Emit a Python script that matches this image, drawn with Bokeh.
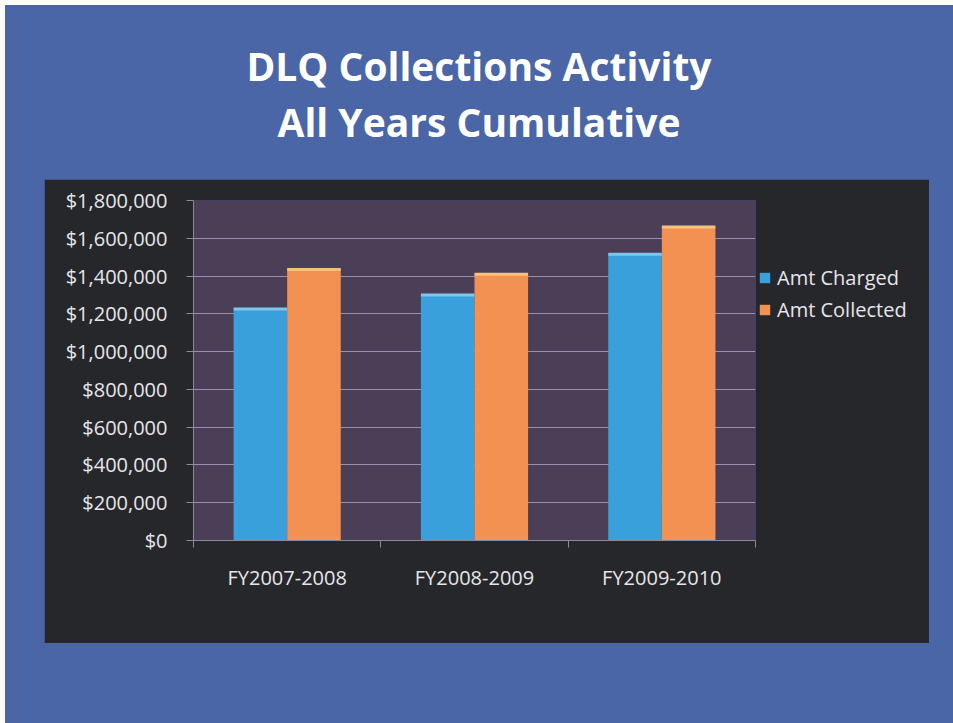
from bokeh.plotting import figure
from bokeh.models import (ColumnDataSource, FactorRange, Range1d, FixedTicker, LinearAxis, Column, Div,
                          CategoricalAxis, NumeralTickFormatter, Legend, LegendItem)
from bokeh.transform import dodge
from bokeh.embed import file_html
from bokeh.resources import INLINE

# ---- data ----
categories = ["FY2007-2008", "FY2008-2009", "FY2009-2010"]
amt_charged = [1225000, 1300000, 1515000]
amt_collected = [1435000, 1410000, 1660000]
y_ticks = [0, 200000, 400000, 600000, 800000, 1000000, 1200000, 1400000, 1600000, 1800000]
series_names = ["Amt Charged", "Amt Collected"]
title_lines = ["DLQ Collections Activity", "All Years Cumulative"]

source = ColumnDataSource(dict(cat=categories, charged=amt_charged, collected=amt_collected))

BLUE_BG = "#4a66a6"
DARK = "#26272b"
PLOT_BG = "#4a3f57"
C_BLUE = "#3aa0dc"
C_ORANGE = "#f29152"
TXT = "#e6e6ea"
AX = "#8c8a98"
FONT = "Open Sans"

# ---- title strip ----
title = Div(text="<br>".join(title_lines), width=948, height=174, margin=0,
            styles={"background-color": BLUE_BG, "color": "white", "text-align": "center",
                    "font-family": FONT, "font-weight": "bold", "font-size": "39px",
                    "line-height": "56px", "padding-top": "33px", "box-sizing": "border-box",
                    "width": "948px", "height": "174px"})

# ---- chart box (885 x 464 on the slide) ----
BOX_W, BOX_H = 885, 464
FL, FT, FW, FH = 149, 21, 562, 340
p = figure(frame_width=FW, frame_height=FH, x_range=FactorRange(*categories), y_range=Range1d(0, 1800000),
           output_backend="svg", toolbar_location=None, x_axis_location=None, y_axis_location="left",
           min_border_left=FL, min_border_top=FT, min_border_right=BOX_W - FL - FW,
           min_border_bottom=BOX_H - FT - FH, margin=(0, 24, 80, 39),
           styles={"clip-path": f"polygon(0px 0px, {BOX_W}px 0px, {BOX_W}px {BOX_H}px, 0px {BOX_H}px)"})
p.border_fill_color = DARK
p.background_fill_color = PLOT_BG
p.outline_line_color = None
p.xgrid.grid_line_color = None

ya = p.yaxis[0]
ya.ticker = FixedTicker(ticks=y_ticks)
ya.formatter = NumeralTickFormatter(format="$0,0")
ya.axis_line_color = AX
ya.major_tick_line_color = AX
ya.major_tick_out = 7
ya.major_tick_in = 0
ya.minor_tick_line_color = None
ya.major_label_text_color = TXT
ya.major_label_text_font = FONT
ya.major_label_text_font_size = "20px"
ya.major_label_standoff = 19

p.ygrid.grid_line_color = "#9a8fae"
p.ygrid.grid_line_width = 1
p.ygrid.ticker = FixedTicker(ticks=y_ticks)

# boundary tick axis (between categories, synthetic coordinates 0..n)
ba = LinearAxis(ticker=FixedTicker(ticks=list(range(len(categories) + 1))))
ba.axis_line_color = AX
ba.major_tick_line_color = AX
ba.major_tick_out = 7
ba.major_tick_in = 0
ba.minor_tick_line_color = None
ba.major_label_text_color = None
ba.major_label_text_font_size = "1px"
ba.major_label_standoff = 0
p.add_layout(ba, "below")

ca = CategoricalAxis()
ca.axis_line_color = None
ca.major_tick_line_color = None
ca.major_label_text_color = TXT
ca.major_label_text_font = FONT
ca.major_label_text_font_size = "20px"
ca.major_label_standoff = 10
p.add_layout(ca, "below")

bw = 0.286
r1 = p.vbar(x=dodge("cat", -bw / 2, range=p.x_range), top="charged", width=bw, source=source,
            fill_color=C_BLUE, line_color=None)
r2 = p.vbar(x=dodge("cat", bw / 2, range=p.x_range), top="collected", width=bw, source=source,
            fill_color=C_ORANGE, line_color=None)
p.rect(x=dodge("cat", -bw / 2, range=p.x_range), y="charged", width=bw, height=3, height_units="screen",
       source=source, fill_color="#7fc6ee", line_color=None)
p.rect(x=dodge("cat", bw / 2, range=p.x_range), y="collected", width=bw, height=3, height_units="screen",
       source=source, fill_color="#f8c27a", line_color=None)

legend = Legend(items=[LegendItem(label=series_names[0], renderers=[r1]),
                       LegendItem(label=series_names[1], renderers=[r2])],
                location=(3, 217), orientation="vertical")
legend.background_fill_alpha = 0
legend.border_line_color = None
legend.padding = 0
legend.margin = 0
legend.spacing = 5
legend.glyph_width = 13
legend.glyph_height = 13
legend.label_height = 20
legend.label_standoff = 6
legend.label_text_color = TXT
legend.label_text_font = FONT
legend.label_text_font_size = "20px"
p.add_layout(legend, "right")

page = Column(children=[title, p], margin=(5, 0, 0, 5), spacing=0,
              styles={"background-color": BLUE_BG})

open("out.html", "w").write(file_html(page, INLINE))
